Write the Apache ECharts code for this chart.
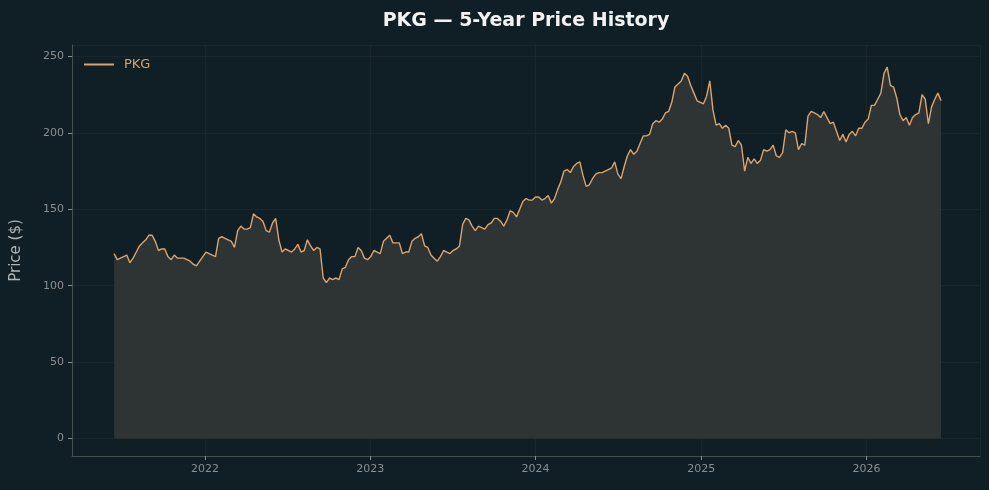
<!DOCTYPE html>
<html>
<head>
<meta charset="utf-8">
<title>PKG — 5-Year Price History</title>
<script src="https://cdn.jsdelivr.net/npm/echarts@6/dist/echarts.min.js"></script>
<style>
html, body { margin: 0; padding: 0; background: #101f25; }
#main { width: 989px; height: 490px; }
</style>
</head>
<body>
<div id="main"></div>
<script>
// weekly closes, first week starts 2021-06-14
var startDate = '2021-06-14';
var prices = [
	121,117,118,119,120,115,118,122,126,128,130,133,133,129,123,124,124,119,117,120,118,118,118,117,116,114,113,116,119,122,121,120,119,131,132,131,130,129,125,136,139,137,137,
	138,147,145,144,142,136,135,141,144,130,122,124,123,122,124,127,122,123,130,126,123,125,124,105,102,105,104,105,104,111,112,117,119,119,125,123,118,117,119,123,122,121,129,131,133,
	128,128,128,121,122,122,129,131,132,134,126,125,120,118,116,119,123,122,121,123,124,126,140,144,143,139,136,139,138,137,140,141,144,144,142,139,143,149,148,145,150,155,157,156,
	156,158,158,156,157,159,154,157,163,168,175,176,174,178,180,181,172,165,166,170,173,174,174,175,176,177,181,173,170,178,185,189,186,188,193,198,198,199,206,208,207,209,213,214,
	220,230,232,234,239,237,231,226,221,220,219,224,234,215,205,206,203,205,203,192,191,195,192,175,184,180,183,180,182,189,188,189,192,185,184,187,202,200,201,200,189,193,192,211,
	214,213,212,210,214,210,206,207,201,195,199,194,199,201,198,203,203,207,209,218,218,222,226,239,243,231,230,223,212,208,210,205,210,212,213,225,222,206,217,222,226,221
];
var xMin = '2021-03-13';
var xMax = '2026-09-09';

var weekMs = 7 * 24 * 3600 * 1000;
var t0 = new Date(startDate + 'T00:00:00Z').getTime();
var seriesData = prices.map(function (p, i) {
	return [t0 + i * weekMs, p];
});

var myChart = echarts.init(document.getElementById('main'));
var font = 'DejaVu Sans';
var option = {
	backgroundColor: '#101f25',
	animation: false,
	title: {
		text: 'PKG — 5-Year Price History',
		left: 521,
		top: 7,
		textAlign: 'center',
		textStyle: { color: '#f2f2f2', fontSize: 19, fontWeight: 'bold', fontFamily: font }
	},
	legend: {
		left: 79,
		top: 53,
		icon: 'rect',
		itemWidth: 30,
		itemHeight: 2,
		textStyle: { color: '#d4a373', fontSize: 13, fontFamily: font, padding: [0, 0, 0, 5] },
		data: ['PKG']
	},
	grid: { left: 72, right: 9, top: 45, bottom: 34 },
	xAxis: {
		type: 'time',
		min: new Date(xMin + 'T00:00:00Z').getTime(),
		max: new Date(xMax + 'T00:00:00Z').getTime(),
		splitNumber: 5,
		axisLine: { show: true, onZero: false, lineStyle: { color: '#44504f' } },
		axisTick: { show: true, length: 4, lineStyle: { color: '#8a8f90' } },
		axisLabel: {
			color: '#8a8f90', fontSize: 11, fontFamily: font, margin: 8,
			showMinLabel: false, showMaxLabel: false,
			formatter: '{yyyy}'
		},
		splitLine: { show: true, lineStyle: { color: 'rgba(255,255,255,0.04)' } }
	},
	yAxis: {
		type: 'value',
		min: -11.5,
		max: 257.5,
		splitNumber: 5,
		name: 'Price ($)',
		nameLocation: 'middle',
		nameGap: 48,
		nameTextStyle: { color: '#b0b4b5', fontSize: 15, fontFamily: font },
		axisLine: { show: true, lineStyle: { color: '#44504f' } },
		axisTick: { show: true, length: 4, lineStyle: { color: '#8a8f90' } },
		axisLabel: {
			color: '#8a8f90', fontSize: 11, fontFamily: font, margin: 8,
			showMinLabel: false, showMaxLabel: false
		},
		splitLine: { show: true, lineStyle: { color: 'rgba(255,255,255,0.04)' } }
	},
	series: [{
		name: 'PKG',
		type: 'line',
		data: seriesData,
		symbol: 'none',
		lineStyle: { color: '#dba46e', width: 1.4 },
		itemStyle: { color: '#dba46e' },
		areaStyle: { color: '#2e3333', opacity: 1, origin: 0 }
	}]
};
myChart.setOption(option);
</script>
</body>
</html>
